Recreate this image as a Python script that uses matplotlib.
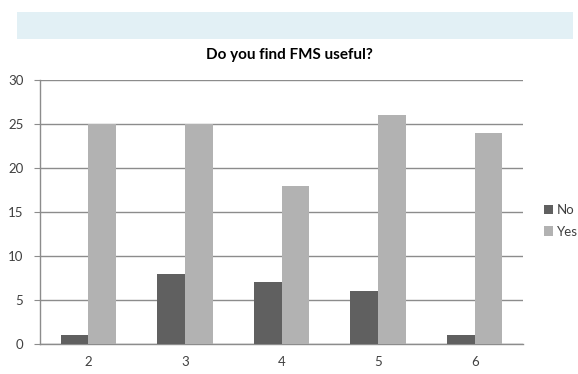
import matplotlib
matplotlib.use("Agg")
import matplotlib.pyplot as plt
from matplotlib.patches import Rectangle
import numpy as np

categorias = ["2", "3", "4", "5", "6"]
valores_no = [1, 8, 7, 6, 1]
valores_si = [25, 25, 18, 26, 24]

plt.rcParams['font.family'] = ['Lato', 'DejaVu Sans']

fig = plt.figure(figsize=(5.78, 3.74), dpi=100)
W, H = 578, 374

# Banda azul clara arriba
fig.patches.append(Rectangle((17 / W, 1 - 39 / H), (573 - 17) / W, 27 / H,
                             transform=fig.transFigure, facecolor='#e2f0f5',
                             edgecolor='none'))

ax = fig.add_axes([40 / W, 1 - 344 / H, (523 - 40) / W, (344 - 80) / H])

x = np.arange(len(categorias))
ancho = 0.287
ax.bar(x - ancho / 2, valores_no, ancho, color='#606060', label='No', zorder=3)
ax.bar(x + ancho / 2, valores_si, ancho, color='#b2b2b2', label='Yes', zorder=3)

ax.set_xlim(-0.5, len(categorias) - 0.5)
ax.set_ylim(0, 30)
ax.set_yticks(range(0, 31, 5))
ax.set_xticks(x)
ax.set_xticklabels(categorias)
ax.yaxis.grid(True, color='#8c8c8c', linewidth=1, zorder=0)
ax.set_axisbelow(True)

for lado in ['top', 'right']:
    ax.spines[lado].set_visible(False)
for lado in ['left', 'bottom']:
    ax.spines[lado].set_color('#8c8c8c')
    ax.spines[lado].set_linewidth(1)

ax.tick_params(axis='y', length=4, color='#8c8c8c', labelsize=9.5,
               labelcolor='#404040', pad=8)
ax.tick_params(axis='x', length=0, labelsize=9.5, labelcolor='#404040', pad=9)

fig.text(0.5, 1 - 55 / H, 'Do you find FMS useful?', ha='center', va='center',
         fontsize=11, fontweight='bold', color='#000000')

ax.legend(loc='center left', bbox_to_anchor=(1.019, 0.466), frameon=False,
          fontsize=9.5, handlelength=0.7, handleheight=0.7, handletextpad=0.3,
          labelspacing=0.7, labelcolor='#404040')

fig.savefig('out.png', dpi=100, facecolor='white')
